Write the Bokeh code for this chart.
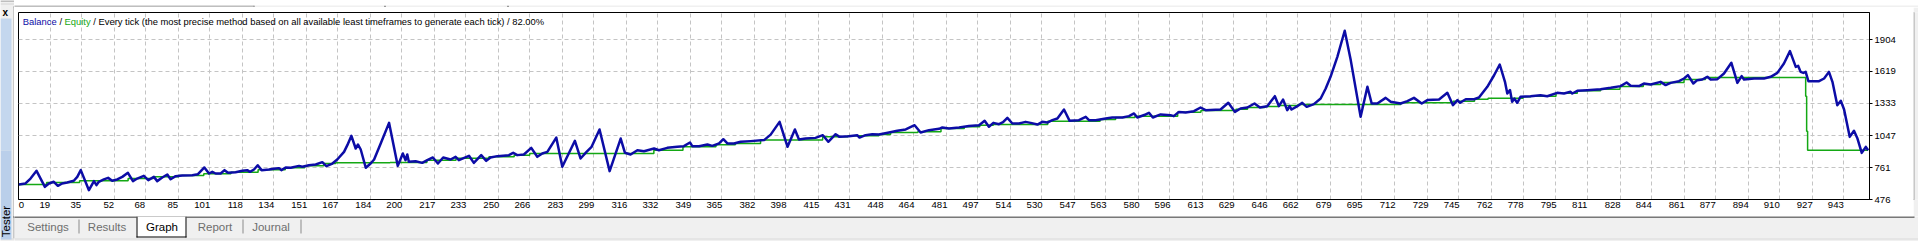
import math
from bokeh.plotting import figure
from bokeh.models import Range1d, LinearAxis, FixedTicker, Label, Grid
from bokeh.layouts import row, column
from bokeh.core.properties import value
from bokeh.embed import file_html
from bokeh.resources import INLINE

# ---------------- data ----------------
bal_t = [2.7, 6.1, 8.7, 11.8, 16.1, 18.2, 20.7, 22.8, 25.0, 27.6, 31.0, 32.8, 34.6, 38.8, 41.4, 42.7,
         43.9, 46.5, 48.7, 50.8, 53.4, 56.0, 58.9, 61.5, 63.7, 67.1, 69.4, 72.3, 74.0, 76.6, 79.2, 80.9,
         83.5, 86.9, 92.1, 95.0, 98.3, 100.7, 102.4, 104.1, 106.7, 108.7, 110.5, 114.4, 117.9, 120.4,
         121.8, 123.9, 125.8, 127.8, 131.6, 135.0, 136.8, 138.0, 140.2, 142.8, 147.1, 148.8, 152.2,
         155.7, 159.1, 161.2, 164.3, 166.8, 170.3, 172.0, 174.1, 176.3, 177.5, 178.9, 181.5, 184.0,
         185.8, 189.2, 193.5, 198.0, 200.6, 202.0, 202.9, 203.7, 207.2, 210.6, 213.2, 216.1, 218.7,
         221.4, 225.2, 227.8, 229.5, 234.7, 237.2, 241.0, 243.6, 245.8, 249.3, 255.3, 257.5, 259.6,
         263.0, 266.8, 269.9, 272.5, 275.1, 279.7, 282.8, 289.3, 292.2, 295.3, 297.9, 302.0, 307.2,
         312.9, 315.1, 318.0, 321.5, 324.9, 330.1, 332.6, 336.9, 342.1, 345.5, 348.6, 349.8, 353.3,
         357.6, 360.1, 363.6, 365.8, 367.9, 371.3, 374.7, 379.9, 386.8, 390.2, 394.8, 398.9, 402.7,
         404.8, 408.2, 413.3, 417.1, 419.9, 423.7, 425.7, 430.5, 434.8, 436.0, 439.1, 442.6, 446.0,
         451.2, 455.5, 459.8, 464.4, 467.5, 471.8, 477.0, 478.7, 482.1, 487.3, 492.4, 497.6, 500.5,
         502.7, 505.0, 507.9, 510.0, 512.2, 514.8, 518.2, 521.6, 524.2, 527.7, 530.2, 532.8, 535.4,
         538.0, 541.4, 544.3, 549.1, 552.6, 554.3, 557.7, 562.9, 566.3, 571.5, 574.9, 577.5, 579.2,
         583.5, 585.2, 587.2, 591.2, 596.3, 598.0, 600.6, 604.1, 608.4, 611.8, 614.4, 622.1, 626.1,
         629.5, 632.4, 635.9, 639.6, 642.4, 646.2, 647.9, 650.1, 652.2, 654.3, 656.5, 657.7, 658.7,
         661.7, 664.2, 666.5, 670.2, 673.7, 676.3, 678.8, 682.3, 686.1, 689.2, 694.3, 697.8, 700.0,
         702.9, 707.2, 709.8, 714.9, 718.4, 721.8, 725.8, 728.7, 734.7, 739.0, 741.9, 744.2, 745.4,
         748.5, 752.8, 755.3, 759.6, 763.1, 766.0, 768.7, 769.9, 771.3, 772.4, 773.6, 775.0, 776.7,
         781.9, 787.0, 790.5, 795.6, 799.1, 802.5, 803.4, 806.0, 811.1, 818.0, 823.2, 828.3, 831.4,
         833.5, 837.8, 840.3, 843.8, 848.9, 851.5, 854.1, 858.4, 861.0, 863.0, 865.8, 867.8, 870.4,
         873.0, 874.7, 878.2, 881.6, 885.4, 888.5, 890.7, 891.9, 897.1, 902.2, 905.7, 909.1, 912.5,
         915.6, 918.6, 919.8, 921.1, 922.5, 923.7, 925.1, 930.6, 933.2, 935.7, 937.5, 940.0, 941.8,
         943.5, 946.4, 948.6, 950.4, 952.6, 954.7, 955.9]
bal_v = [610, 619, 663, 732, 589, 619, 634, 598, 619, 628, 643, 678, 738, 559, 640, 604,
         634, 655, 669, 643, 655, 678, 714, 640, 663, 687, 649, 678, 640, 672, 699, 657,
         684, 690, 693, 702, 762, 708, 723, 708, 708, 738, 714, 720, 732, 738,
         723, 744, 782, 738, 744, 753, 756, 738, 762, 759, 776, 768, 782,
         788, 809, 773, 797, 833, 901, 961, 1044, 931, 967, 922, 759, 797,
         833, 976, 1160, 776, 887, 827, 878, 812, 818, 803, 827, 851, 797,
         851, 833, 857, 827, 866, 803, 872, 821, 851, 863, 872, 893, 872,
         878, 937, 857, 887, 901, 1029, 768, 1000, 842, 901, 946, 1101, 729,
         1020, 893, 878, 916, 907, 931, 916, 937, 946, 952, 985, 952, 952,
         967, 955, 976, 1014, 976, 976, 991, 997, 1006, 1055, 1169, 946, 1101,
         1011, 1020, 1026, 1050, 991, 1059, 1035, 1041, 1050, 1029, 1050, 1059, 1056,
         1074, 1089, 1101, 1139, 1074, 1095, 1107, 1119, 1110, 1119, 1131, 1139, 1178,
         1125, 1160, 1148, 1166, 1205, 1154, 1154, 1169, 1160, 1145, 1169, 1163, 1184,
         1199, 1279, 1178, 1184, 1214, 1184, 1184, 1199, 1208, 1208, 1220, 1244, 1208,
         1235, 1250, 1208, 1235, 1229, 1220, 1258, 1253, 1264, 1297, 1273, 1279, 1339,
         1258, 1288, 1297, 1333, 1297, 1309, 1348, 1398, 1309, 1368, 1273, 1309, 1279,
         1309, 1339, 1303, 1327, 1377, 1467, 1571, 1749, 1982, 1720, 1214, 1482, 1333,
         1333, 1383, 1348, 1333, 1354, 1383, 1333, 1363, 1368, 1428, 1318, 1363, 1339,
         1371, 1371, 1386, 1482, 1585, 1681, 1526, 1422, 1452, 1348, 1377, 1339, 1392,
         1398, 1407, 1398, 1428, 1422, 1437, 1422, 1446, 1452, 1461, 1473, 1488, 1520,
         1491, 1488, 1511, 1503, 1526, 1497, 1517, 1532, 1556, 1586, 1511, 1541, 1547,
         1571, 1547, 1550, 1600, 1696, 1517, 1577, 1547, 1556, 1556, 1571, 1606, 1690,
         1800, 1660, 1669, 1615, 1606, 1615, 1532, 1532, 1556, 1615, 1526, 1318, 1357,
         1279, 1035, 1089, 1020, 892, 946, 916]

eq_t = [2.7, 17, 34, 59, 72, 85, 98, 112, 126, 140, 150, 160, 166, 194, 213, 228, 245, 258, 266,
        330, 345, 362, 372, 385, 417, 430, 446, 452, 466, 478, 490, 498, 505, 533, 560, 568, 578,
        600, 612, 630, 636, 645, 652, 662, 715, 742, 753, 760, 778, 782, 795, 806, 818, 828, 840,
        849, 861, 872, 923.7, 924.2, 924.7, 955.9]
eq_v = [610, 628, 643, 663, 678, 690, 705, 720, 741, 760, 778, 797, 803, 806, 827, 845, 857, 872, 887,
        916, 946, 965, 976, 1008, 1035, 1044, 1056, 1074, 1080, 1110, 1125, 1139, 1145, 1175, 1190, 1208, 1220,
        1255, 1270, 1282, 1297, 1306, 1315, 1324, 1339, 1354, 1371, 1380, 1392, 1398, 1425, 1446, 1461, 1485, 1503,
        1520, 1547, 1565, 1398, 1086, 916, 916]

x_tick_labels = ["0", "19", "35", "52", "68", "85", "101", "118", "134", "151", "167", "184", "200",
                 "217", "233", "250", "266", "283", "299", "316", "332", "349", "365", "382", "398",
                 "415", "431", "448", "464", "481", "497", "514", "530", "547", "563", "580", "596",
                 "613", "629", "646", "662", "679", "695", "712", "729", "745", "762", "778", "795",
                 "811", "828", "844", "861", "877", "894", "910", "927", "943"]
y_tick_labels = ["476", "761", "1047", "1333", "1619", "1904"]

title_parts = ["Balance", " / ", "Equity",
               " / Every tick (the most precise method based on all available least timeframes to generate each tick) / 82.00%"]
tab_names = ["Settings", "Results", "Graph", "Report", "Journal"]
side_text = "Tester"

# ---------------- geometry (canvas px of the 1918x241 page) ----------------
W, H = 1918, 241
CX0, CY0, CX1, CY1 = 14, 7, 1913, 216       # chart figure box
FL, FR, FT, FB = 18, 1869, 12, 199          # plot frame edges
X0, X1 = 2.5, 956.6
Y0, Y1 = 476, 2145
PX = (FR - FL) / (X1 - X0)                   # px per trade

FONT = "Liberation Sans"
BLUE = "#0C0CA6"
GREEN = "#14A814"
BG = "#F0F0F0"

# ---------------- chart figure ----------------
p = figure(width=CX1 - CX0, height=CY1 - CY0, x_range=Range1d(X0, X1), y_range=Range1d(Y0, Y1),
           output_backend="svg", toolbar_location=None,
           x_axis_location=None, y_axis_location=None,
           min_border_left=FL - CX0, min_border_right=CX1 - FR,
           min_border_top=FT - CY0, min_border_bottom=CY1 - FB)
p.background_fill_color = "white"
p.border_fill_color = "white"
p.outline_line_color = "black"
p.outline_line_width = 1
p.grid.visible = False

grid_x = [int(s) for s in x_tick_labels[1:]]
y_ticks = [int(s) for s in y_tick_labels]

p.add_layout(Grid(dimension=0, ticker=FixedTicker(ticks=grid_x), grid_line_color="#c4c4c4",
                  grid_line_dash="4 3", grid_line_width=1))
p.add_layout(Grid(dimension=1, ticker=FixedTicker(ticks=y_ticks[1:]), grid_line_color="#c4c4c4",
                  grid_line_dash="4 3", grid_line_width=1))

label_pos = []
overrides = {}
for s in x_tick_labels:
    v = int(s)
    if v == 0:
        pos = round(X0 + 3.0 / PX, 3)
    else:
        pos = round(v - (2.5 + 1.6 * len(s)) / PX, 3)
    label_pos.append(pos)
    overrides[pos] = s

xaxis = LinearAxis(ticker=FixedTicker(ticks=label_pos), major_label_overrides=overrides)
xaxis.axis_line_color = "black"
xaxis.major_tick_line_color = None
xaxis.minor_tick_line_color = None
xaxis.major_tick_out = 0
xaxis.major_tick_in = 0
xaxis.major_label_standoff = 2
xaxis.major_label_text_font = FONT
xaxis.major_label_text_font_size = "9.6px"
xaxis.major_label_text_color = "black"
p.add_layout(xaxis, "below")

yaxis = LinearAxis(ticker=FixedTicker(ticks=y_ticks),
                   major_label_overrides={v: s for v, s in zip(y_ticks, y_tick_labels)})
yaxis.axis_line_color = "black"
yaxis.major_tick_line_color = "black"
yaxis.minor_tick_line_color = None
yaxis.major_tick_out = 3
yaxis.major_tick_in = 0
yaxis.major_label_standoff = 2
yaxis.major_label_text_font = FONT
yaxis.major_label_text_font_size = "9.6px"
yaxis.major_label_text_color = "black"
p.add_layout(yaxis, "right")

p.step(eq_t, eq_v, mode="after", line_color=GREEN, line_width=1.5)
p.line(bal_t, bal_v, line_color=BLUE, line_width=2.5, line_join="round")

# title: coloured parts, laid out with Arial-like advance widths
ADV = {"B": 667, "a": 556, "l": 222, "n": 556, "c": 500, "e": 556, " ": 278, "/": 278,
       "E": 667, "q": 556, "u": 556, "i": 222, "t": 278, "y": 500}
TS = 9.4
tx = 22.3
for part, col in zip(title_parts, [BLUE, "black", GREEN, "black"]):
    lead = len(part) - len(part.lstrip(" "))
    p.add_layout(Label(x=tx + lead * 278 * TS / 1000.0 - FL, y=FB - 20.7, x_units="screen", y_units="screen",
                       text=part.strip(" "), text_font=FONT, text_font_size=f"{TS}px", text_color=col,
                       text_baseline="middle", text_align="left"))
    tx += sum(ADV.get(ch, 556) for ch in part) * TS / 1000.0

# ---------------- window decorations (canvas px) ----------------
rects = [  # x0, y0, x1, y1, colour
    (0, 3, W, 4, "#D4D4D4"),
    (0, 0, 254, 1, "#8C8C8C"), (253, 0, 254, 3, "#8C8C8C"),
    (384, 2, 508, 3, "#404040"), (384, 0, 385, 3, "#404040"), (507, 0, 508, 3, "#404040"),
    (13, 6, 1914, 7, "#A0A0A0"), (13, 6, 14, 238, "#A0A0A0"), (1913, 6, 1914, 216, "#A0A0A0"),
    (0, 238, W, 239, "#DADADA"),
    (0, 18, 11, 150, "#C4D7EE"), (0, 150, 11, 239, "#BACFEA"),
    (13, 216, 1914, 217, "black"),
    (136, 216, 186, 237, "white"),
    (136, 216, 137, 237, "black"), (185, 216, 186, 237, "black"), (136, 236, 186, 237, "black"),
    (78, 219, 79, 233, "#8A8A8A"), (242, 219, 243, 233, "#8A8A8A"), (300, 219, 301, 233, "#8A8A8A"),
]
tab_x = [47.5, 106.5, 161.5, 214.5, 270.5]


def decor_fig(x0, y0, x1, y1):
    f = figure(width=x1 - x0, height=y1 - y0, x_range=Range1d(x0, x1), y_range=Range1d(H - y1, H - y0),
               output_backend="svg", toolbar_location=None, x_axis_location=None, y_axis_location=None,
               min_border=0, min_border_left=0, min_border_right=0, min_border_top=0, min_border_bottom=0)
    f.background_fill_color = BG
    f.border_fill_color = BG
    f.outline_line_color = None
    f.grid.visible = False
    f.quad(left=[r[0] for r in rects], right=[r[2] for r in rects],
           top=[H - r[1] for r in rects], bottom=[H - r[3] for r in rects],
           fill_color=[r[4] for r in rects], line_color=None)
    return f


left = decor_fig(0, 0, CX0, H)
left.text(x=[4.7], y=[H - 12.3], text=["x"], text_font=value(FONT), text_font_size=value("10px"),
          text_font_style="bold", text_align="center", text_baseline="middle", text_color="black")
left.text(x=[5.2], y=[H - 221], text=[side_text], text_font=value(FONT), text_font_size=value("11.5px"),
          text_align="center", text_baseline="middle", text_color="black", angle=math.pi / 2)

top = decor_fig(CX0, 0, W, CY0)
right = decor_fig(CX1, CY0, W, CY1)
bottom = decor_fig(CX0, CY1, W, H)
bottom.text(x=tab_x, y=[H - 226.5] * len(tab_x), text=tab_names, text_font=value(FONT),
            text_font_size=value("11.5px"), text_align="center", text_baseline="middle",
            text_color=["black" if n == "Graph" else "#6E6E6E" for n in tab_names])

layout = row(left, column(top, row(p, right, spacing=0), bottom, spacing=0), spacing=0)

open("out.html", "w").write(file_html(layout, INLINE))
